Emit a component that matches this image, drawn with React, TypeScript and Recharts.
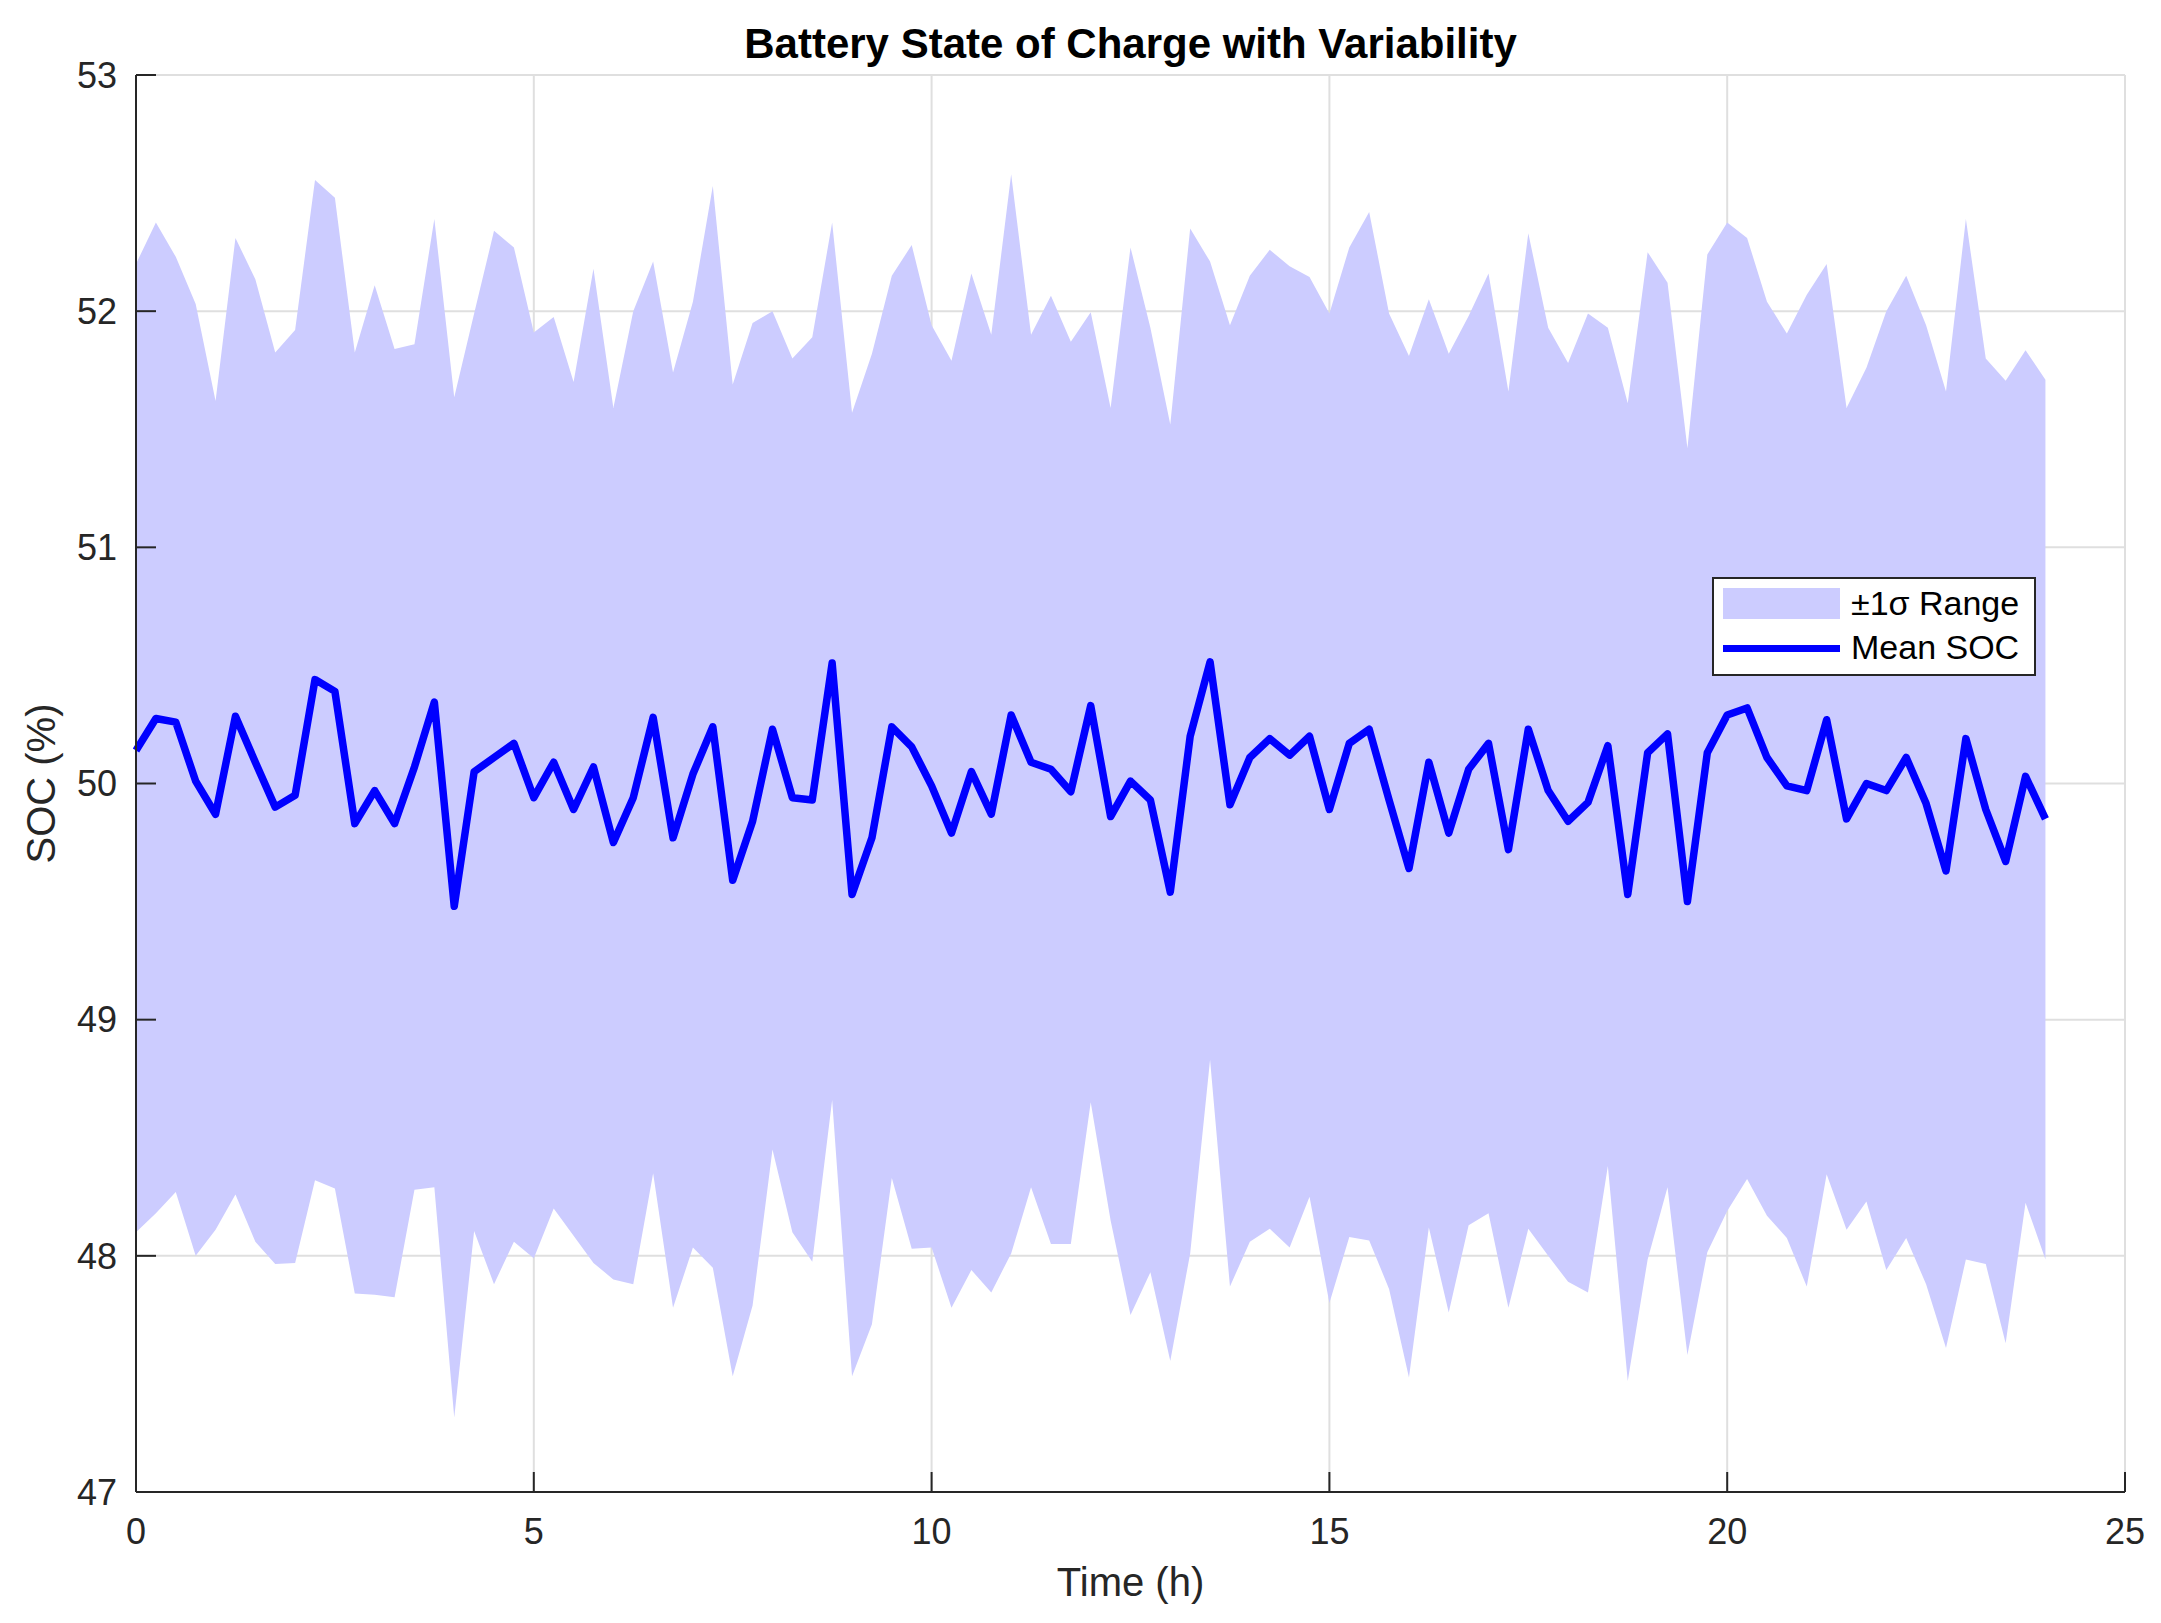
import { ComposedChart, Area, Line, XAxis, YAxis, CartesianGrid, Legend } from "recharts"

const hours = [
  0, 0.25, 0.5, 0.75, 1, 1.25, 1.5, 1.75, 2, 2.25, 2.5, 2.75, 3, 3.25, 3.5, 3.75,
  4, 4.25, 4.5, 4.75, 5, 5.25, 5.5, 5.75, 6, 6.25, 6.5, 6.75, 7, 7.25, 7.5, 7.75,
  8, 8.25, 8.5, 8.75, 9, 9.25, 9.5, 9.75, 10, 10.25, 10.5, 10.75, 11, 11.25, 11.5, 11.75,
  12, 12.25, 12.5, 12.75, 13, 13.25, 13.5, 13.75, 14, 14.25, 14.5, 14.75, 15, 15.25, 15.5, 15.75,
  16, 16.25, 16.5, 16.75, 17, 17.25, 17.5, 17.75, 18, 18.25, 18.5, 18.75, 19, 19.25, 19.5, 19.75,
  20, 20.25, 20.5, 20.75, 21, 21.25, 21.5, 21.75, 22, 22.25, 22.5, 22.75, 23, 23.25, 23.5, 23.75,
  24,
]

const meanSoc = [
  50.14, 50.275, 50.26, 50.01, 49.87, 50.285, 50.09, 49.9, 49.95, 50.44, 50.39, 49.83, 49.97, 49.83, 50.07, 50.345,
  49.48, 50.05, 50.11, 50.17, 49.94, 50.09, 49.89, 50.07, 49.75, 49.94, 50.28, 49.77, 50.04, 50.24, 49.59, 49.84,
  50.23, 49.94, 49.93, 50.51, 49.53, 49.77, 50.24, 50.155, 49.99, 49.79, 50.05, 49.87, 50.29, 50.09, 50.06, 49.965,
  50.33, 49.86, 50.01, 49.93, 49.54, 50.2, 50.515, 49.91, 50.11, 50.19, 50.12, 50.2, 49.89, 50.17, 50.23, 49.93,
  49.64, 50.09, 49.79, 50.06, 50.17, 49.72, 50.23, 49.97, 49.84, 49.92, 50.16, 49.53, 50.13, 50.21, 49.5, 50.13,
  50.29, 50.32, 50.11, 49.99, 49.97, 50.27, 49.85, 50.0, 49.97, 50.11, 49.915, 49.63, 50.19, 49.89, 49.67, 50.03,
  49.85,
]

const upperSoc = [
  52.2, 52.375, 52.23, 52.03, 51.62, 52.31, 52.135, 51.825, 51.92, 52.555, 52.48, 51.825, 52.11, 51.84, 51.86, 52.39,
  51.635, 51.99, 52.34, 52.27, 51.91, 51.975, 51.7, 52.18, 51.59, 52.0, 52.21, 51.74, 52.04, 52.53, 51.69, 51.95,
  52.0, 51.8, 51.89, 52.375, 51.57, 51.82, 52.15, 52.28, 51.94, 51.79, 52.16, 51.9, 52.58, 51.9, 52.065, 51.87,
  51.995, 51.59, 52.27, 51.93, 51.52, 52.35, 52.21, 51.94, 52.15, 52.26, 52.19, 52.145, 51.99, 52.27, 52.42, 51.99,
  51.81, 52.05, 51.82, 51.98, 52.16, 51.66, 52.33, 51.93, 51.78, 51.99, 51.93, 51.61, 52.25, 52.12, 51.42, 52.24,
  52.375, 52.31, 52.04, 51.905, 52.07, 52.2, 51.59, 51.76, 52.0, 52.15, 51.94, 51.66, 52.39, 51.8, 51.705, 51.835,
  51.71,
]

const lowerSoc = [
  48.1, 48.18, 48.27, 48.0, 48.11, 48.26, 48.06, 47.965, 47.97, 48.32, 48.285, 47.84, 47.835, 47.825, 48.28, 48.29,
  47.315, 48.105, 47.88, 48.06, 47.99, 48.2, 48.085, 47.97, 47.9, 47.88, 48.35, 47.78, 48.035, 47.95, 47.49, 47.79,
  48.45, 48.1, 47.975, 48.66, 47.49, 47.71, 48.33, 48.03, 48.035, 47.78, 47.94, 47.845, 48.01, 48.29, 48.05, 48.05,
  48.65, 48.15, 47.75, 47.93, 47.555, 48.01, 48.83, 47.87, 48.06, 48.115, 48.035, 48.25, 47.8, 48.08, 48.065, 47.86,
  47.485, 48.12, 47.76, 48.13, 48.18, 47.78, 48.115, 48.0, 47.89, 47.845, 48.38, 47.47, 47.985, 48.29, 47.58, 48.015,
  48.19, 48.325, 48.17, 48.075, 47.87, 48.345, 48.11, 48.23, 47.94, 48.075, 47.88, 47.61, 47.985, 47.965, 47.63, 48.225,
  47.985,
]

const xTicks = [0, 5, 10, 15, 20, 25]
const yTicks = [47, 48, 49, 50, 51, 52, 53]

const bandLabel = "±1σ Range"
const meanLabel = "Mean SOC"

const data = hours.map((t, i) => ({
  t,
  mean: meanSoc[i],
  band: [lowerSoc[i], upperSoc[i]],
}))

const FONT = "'Liberation Sans', Arial, Helvetica, sans-serif"
const AXIS = "#262626"
const BAND = "#ccccff"
const LINE = "#0000ff"

function LegendBox() {
  return (
    <div
      style={{
        position: "relative",
        width: 324,
        height: 99,
        boxSizing: "border-box",
        border: "2px solid #262626",
        background: "#ffffff",
        fontFamily: FONT,
        fontSize: 34,
        color: "#000",
      }}
    >
      <div style={{ position: "absolute", left: 9, top: 9, width: 117, height: 31, background: BAND }} />
      <div style={{ position: "absolute", left: 137, top: 7, lineHeight: "34px", whiteSpace: "nowrap" }}>{bandLabel}</div>
      <div style={{ position: "absolute", left: 9, top: 66, width: 117, height: 7, background: LINE }} />
      <div style={{ position: "absolute", left: 137, top: 51, lineHeight: "34px", whiteSpace: "nowrap" }}>{meanLabel}</div>
    </div>
  )
}

export default function App() {
  return (
    <div style={{ position: "absolute", left: 0, top: 0, width: 2161, height: 1623, background: "#fff" }}>
      <div
        style={{
          position: "absolute",
          left: 136,
          top: 23,
          width: 1989,
          textAlign: "center",
          fontFamily: FONT,
          fontWeight: "bold",
          fontSize: 42,
          lineHeight: "42px",
          color: "#000",
          zIndex: 2,
        }}
      >
        Battery State of Charge with Variability
      </div>
      <ComposedChart
        width={2161}
        height={1623}
        data={data}
        margin={{ top: 75, right: 36, bottom: 71, left: 56 }}
        style={{ fontFamily: FONT }}
      >
        <CartesianGrid xAxisId="b" yAxisId="l" stroke="#dfdfdf" strokeWidth={2} />
        <XAxis
          xAxisId="b"
          dataKey="t"
          type="number"
          domain={[0, 25]}
          ticks={xTicks}
          height={60}
          stroke={AXIS}
          strokeWidth={2}
          tickSize={-20}
          tickMargin={46}
          tick={{ fontSize: 36, fill: AXIS }}
          label={{ value: "Time (h)", position: "bottom", offset: 16, fontSize: 40, fill: AXIS }}
        />
        <XAxis
          xAxisId="top"
          orientation="top"
          dataKey="t"
          type="number"
          domain={[0, 25]}
          ticks={xTicks}
          height={0}
          stroke={AXIS}
          strokeWidth={2}
          tickSize={-20}
          tick={false}
        />
        <YAxis
          yAxisId="l"
          type="number"
          domain={[47, 53]}
          ticks={yTicks}
          width={80}
          stroke={AXIS}
          strokeWidth={2}
          tickSize={-20}
          tickMargin={39}
          tick={{ fontSize: 36, fill: AXIS }}
          label={{ value: "SOC (%)", angle: -90, position: "center", dx: -55, fontSize: 40, fill: AXIS }}
        />
        <YAxis
          yAxisId="r"
          orientation="right"
          type="number"
          domain={[47, 53]}
          ticks={yTicks}
          width={0}
          stroke={AXIS}
          strokeWidth={2}
          tickSize={-20}
          tick={false}
        />
        <Area
          xAxisId="b"
          yAxisId="l"
          type="linear"
          dataKey="band"
          name={bandLabel}
          fill={BAND}
          fillOpacity={1}
          stroke="none"
          isAnimationActive={false}
        />
        <Line
          xAxisId="b"
          yAxisId="l"
          type="linear"
          dataKey="mean"
          name={meanLabel}
          stroke={LINE}
          strokeWidth={7.5}
          strokeLinejoin="round"
          dot={false}
          isAnimationActive={false}
        />
        <Legend
          layout="horizontal"
          align="center"
          verticalAlign="middle"
          wrapperStyle={{ left: 1712, top: 577, width: 324, height: 99 }}
          content={() => <LegendBox />}
        />
      </ComposedChart>
    </div>
  )
}
